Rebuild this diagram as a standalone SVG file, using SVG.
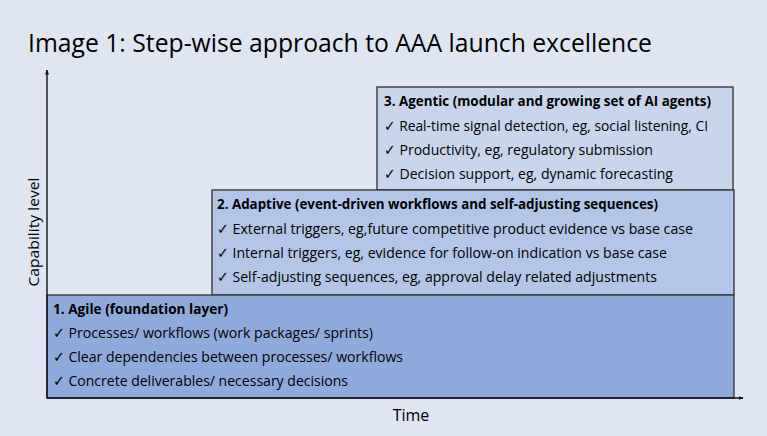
<svg xmlns="http://www.w3.org/2000/svg" width="767" height="436" viewBox="0 0 767 436">
<style>
.box{stroke:#3a3a3a;stroke-width:1.4}
.t{font-family:"Open Sans",Lato,"DejaVu Sans",sans-serif;font-size:15px;fill:#000}
.b{font-weight:bold}
.ax{stroke:#111;stroke-width:1.4;fill:none}
</style>
<defs>
<marker id="ah" viewBox="0 0 10 10" refX="9" refY="5" markerWidth="5" markerHeight="5" orient="auto-start-reverse" markerUnits="userSpaceOnUse">
<path d="M0,1 L10,5 L0,9 z" fill="#111"/>
</marker>
</defs>
<rect width="767" height="436" fill="#dfe6f2"/>
<text x="28" y="52" class="t" style="font-size:25px" textLength="624" lengthAdjust="spacingAndGlyphs">Image 1: Step-wise approach to AAA launch excellence</text>

<g id="node3">
<rect class="box" x="377" y="87" width="356" height="103" fill="#c8d5ec"/>
<text class="t b" x="384" y="106" textLength="327" lengthAdjust="spacingAndGlyphs">3. Agentic (modular and growing set of AI agents)</text>
<text class="t" x="384" y="131" textLength="324" lengthAdjust="spacingAndGlyphs">✓ Real-time signal detection, eg, social listening, CI</text>
<text class="t" x="384" y="155" textLength="269" lengthAdjust="spacingAndGlyphs">✓ Productivity, eg, regulatory submission</text>
<text class="t" x="384" y="179" textLength="289" lengthAdjust="spacingAndGlyphs">✓ Decision support, eg, dynamic forecasting</text>
</g>

<g id="node2">
<rect class="box" x="212" y="190" width="522" height="105" fill="#b3c6e7"/>
<text class="t b" x="217" y="209" textLength="441" lengthAdjust="spacingAndGlyphs">2. Adaptive (event-driven workflows and self-adjusting sequences)</text>
<text class="t" x="217" y="234" textLength="476" lengthAdjust="spacingAndGlyphs">✓ External triggers, eg,future competitive product evidence vs base case</text>
<text class="t" x="217" y="258" textLength="450" lengthAdjust="spacingAndGlyphs">✓ Internal triggers, eg, evidence for follow-on indication vs base case</text>
<text class="t" x="217" y="282" textLength="440" lengthAdjust="spacingAndGlyphs">✓ Self-adjusting sequences, eg, approval delay related adjustments</text>
</g>

<g id="node1">
<rect class="box" x="47" y="295" width="687" height="103" fill="#8eaadb"/>
<text class="t b" x="53" y="314" textLength="175" lengthAdjust="spacingAndGlyphs">1. Agile (foundation layer)</text>
<text class="t" x="53" y="338" textLength="320" lengthAdjust="spacingAndGlyphs">✓ Processes/ workflows (work packages/ sprints)</text>
<text class="t" x="53" y="362" textLength="350" lengthAdjust="spacingAndGlyphs">✓ Clear dependencies between processes/ workflows</text>
<text class="t" x="53" y="386" textLength="295" lengthAdjust="spacingAndGlyphs">✓ Concrete deliverables/ necessary decisions</text>
</g>

<g id="connectors">
<line class="ax" x1="47" y1="398" x2="47" y2="70" marker-end="url(#ah)"/>
<line class="ax" x1="47" y1="398" x2="743" y2="398" marker-end="url(#ah)"/>
</g>

<text class="t" x="411" y="421" text-anchor="middle" style="font-size:16px">Time</text>
<text class="t" transform="translate(39,232) rotate(-90)" text-anchor="middle" textLength="109" lengthAdjust="spacingAndGlyphs">Capability level</text>
</svg>
